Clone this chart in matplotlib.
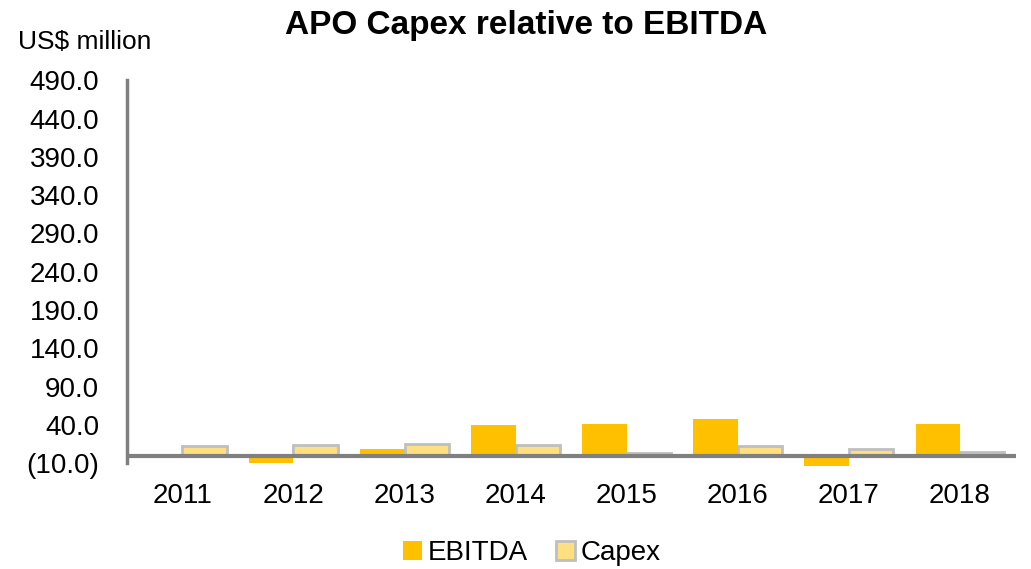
import numpy as np
import matplotlib.pyplot as plt

plt.rcParams['font.family'] = ['Liberation Sans', 'DejaVu Sans']

years = ["2011", "2012", "2013", "2014", "2015", "2016", "2017", "2018"]
ebitda = [-1.5, -10.0, 8.0, 40.0, 41.0, 48.0, -14.0, 41.0]
capex = [12.0, 14.0, 15.0, 14.0, 3.5, 13.0, 8.0, 4.0]
yticks = [-10, 40, 90, 140, 190, 240, 290, 340, 390, 440, 490]

fig = plt.figure(figsize=(10.31, 5.69), dpi=100)
ax = fig.add_axes([0.123, 0.186, 0.862, 0.673])

x = np.arange(len(years))
w = 0.4
ax.bar(x - w / 2, ebitda, w, color="#FFC000", label="EBITDA", zorder=2, clip_on=False)
ax.bar(x + w / 2, capex, w, color="#FFE081", edgecolor="#BFBFBF", linewidth=2,
       label="Capex", zorder=2, clip_on=False)

ax.set_xlim(-0.5, len(years) - 0.5)
ax.set_ylim(-10, 490)
ax.set_yticks(yticks)
ax.set_yticklabels(["(10.0)" if v < 0 else f"{v:.1f}" for v in yticks])
ax.set_xticks(x)
ax.set_xticklabels(years)
ax.tick_params(axis="both", length=0, labelsize=20, colors="#000000")
ax.tick_params(axis="x", pad=14)
ax.tick_params(axis="y", pad=20)

for s in ["top", "right", "bottom"]:
    ax.spines[s].set_visible(False)
ax.spines["left"].set_color("#808080")
ax.spines["left"].set_linewidth(2.5)
ax.axhline(0, color="#808080", linewidth=3, zorder=3)

fig.text(0.51, 0.955, "APO Capex relative to EBITDA", ha="center", va="center",
         fontsize=24, fontweight="bold")
fig.text(0.017, 0.926, "US$ million", ha="left", va="center", fontsize=19)

ax.legend(loc="center", bbox_to_anchor=(0.516, 0.028), bbox_transform=fig.transFigure,
          ncol=2, frameon=False, fontsize=20, handlelength=0.7, handleheight=0.7,
          handletextpad=0.2, columnspacing=1.0)

plt.savefig("out.png", dpi=100)
